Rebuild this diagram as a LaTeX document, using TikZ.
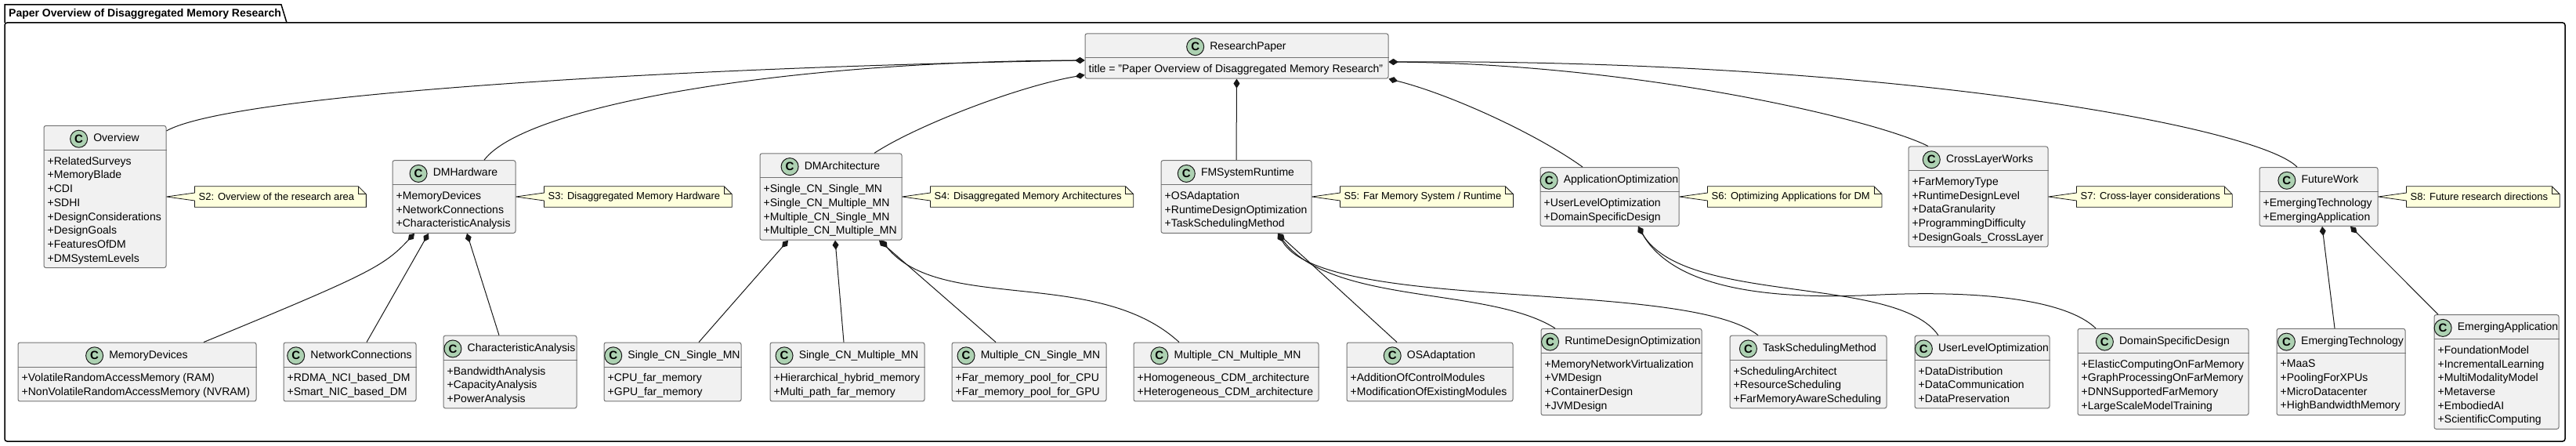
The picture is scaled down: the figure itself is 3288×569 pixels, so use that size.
\documentclass[tikz,border=0pt]{standalone}
\usepackage{fontspec}
\setmainfont{Liberation Sans}
\usepackage{xcolor}
\usepackage{tikz}
\usetikzlibrary{arrows.meta,positioning,calc,backgrounds}

\definecolor{clsfill}{HTML}{F1F1F1}
\definecolor{clsline}{HTML}{181818}
\definecolor{badgefill}{HTML}{ADD1B2}
\definecolor{notefill}{HTML}{FEFFDD}

% class box: name, centre, width, number of members, title, members
\newcommand{\umlclass}[6]{%
  \node[cls, minimum width=#3, minimum height={39.5+17.7*#4}] (#1) at #2 {};
  \draw[divider] ($(#1.north west)+(0,31.5)$) -- ($(#1.north east)+(0,31.5)$);
  \node[clsname] (#1-name) at ($(#1.north)+(14.5,17.25)$) {#5};
  \node[badge, left=7pt of #1-name] (#1-c) {C};
  \node[clsattr] (#1-attr) at ($(#1.north west)+(5,40)$) {#6};
}

% note attached to a class: name, class, text
\newcommand{\umlnote}[3]{%
  \node[notetext, right=36pt of #2] (#1) {#3};
  \begin{scope}[on background layer]
    \filldraw[note] (#1.north west) -- (#1.north east) -- ($(#1.north east)+(10,10)$)
      -- ($(#1.south east)+(10,0)$) -- (#1.south west) -- ($(#1.west)+(0,5)$)
      -- (#2.east) -- ($(#1.west)+(0,-5)$) -- cycle;
  \end{scope}
  \draw[notefold] (#1.north east) -- ($(#1.north east)+(0,10)$) -- ($(#1.north east)+(10,10)$);
}

\begin{document}
\begin{tikzpicture}[
    x=1pt, y=-1pt,
    cls/.style={draw=black!55, line width=1pt, fill=clsfill, rounded corners=2.5pt, inner sep=0pt},
    divider/.style={draw=black!55, line width=1pt},
    clsname/.style={inner sep=0pt, font=\fontsize{14}{17}\selectfont, text height=10pt, text depth=3pt},
    badge/.style={circle, draw=clsline, line width=1pt, fill=badgefill, minimum size=22pt, inner sep=0pt, font=\fontsize{15}{15}\selectfont\bfseries},
    clsattr/.style={anchor=north west, inner sep=0pt, align=left, font=\fontsize{14}{17.7}\selectfont},
    notetext/.style={anchor=west, inner xsep=5pt, inner ysep=0pt, minimum height=26pt, font=\fontsize{13}{16}\selectfont},
    note/.style={draw=clsline, line width=0.8pt, fill=notefill},
    notefold/.style={draw=clsline, line width=0.8pt},
    comp/.style={{Diamond[length=12pt, width=8pt]}-, draw=clsline, line width=1pt},
    frame/.style={draw=black, line width=1.5pt},
    pkgtitle/.style={anchor=west, inner sep=0pt, font=\fontsize{14}{17}\selectfont\bfseries},
  ]
  \useasboundingbox (0,0) rectangle (3288,569);

  % Package frame
  \draw[frame, rounded corners=3pt] (6,29) rectangle (3274,563);
  \draw[frame] (6,29) -- (6,6) -- (359,6) -- (366,29);
  \node[pkgtitle] (pkg) at (11,18) {Paper Overview of Disaggregated Memory Research};

  % Root class
  \umlclass{researchpaper}{(1578.5,71.5)}{387}{1}{ResearchPaper}{title = "Paper Overview of Disaggregated Memory Research"}

  % Sections
  \umlclass{overview}{(134,251)}{156}{8}{Overview}{+RelatedSurveys\\+MemoryBlade\\+CDI\\+SDHI\\+DesignConsiderations\\+DesignGoals\\+FeaturesOfDM\\+DMSystemLevels}
  \umlclass{dmhw}{(579.5,251)}{157}{3}{DMHardware}{+MemoryDevices\\+NetworkConnections\\+CharacteristicAnalysis}
  \umlclass{dmarch}{(1060.5,251)}{181}{4}{DMArchitecture}{+Single\_CN\_Single\_MN\\+Single\_CN\_Multiple\_MN\\+Multiple\_CN\_Single\_MN\\+Multiple\_CN\_Multiple\_MN}
  \umlclass{fmsr}{(1578,251)}{192}{3}{FMSystemRuntime}{+OSAdaptation\\+RuntimeDesignOptimization\\+TaskSchedulingMethod}
  \umlclass{appopt}{(2054.5,251)}{177}{2}{ApplicationOptimization}{+UserLevelOptimization\\+DomainSpecificDesign}
  \umlclass{crosslayer}{(2525,251)}{178}{5}{CrossLayerWorks}{+FarMemoryType\\+RuntimeDesignLevel\\+DataGranularity\\+ProgrammingDifficulty\\+DesignGoals\_CrossLayer}
  \umlclass{futurework}{(2959.5,251)}{151}{2}{FutureWork}{+EmergingTechnology\\+EmergingApplication}

  % Notes
  \umlnote{s2}{overview}{S2: Overview of the research area}
  \umlnote{s3}{dmhw}{S3: Disaggregated Memory Hardware}
  \umlnote{s4}{dmarch}{S4: Disaggregated Memory Architectures}
  \umlnote{s5}{fmsr}{S5: Far Memory System / Runtime}
  \umlnote{s6}{appopt}{S6: Optimizing Applications for DM}
  \umlnote{s7}{crosslayer}{S7: Cross-layer considerations}
  \umlnote{s8}{futurework}{S8: Future research directions}

  % Leaf classes
  \umlclass{memdev}{(175,474.5)}{304}{2}{MemoryDevices}{+VolatileRandomAccessMemory (RAM)\\+NonVolatileRandomAccessMemory (NVRAM)}
  \umlclass{netconn}{(446.5,474.5)}{169}{2}{NetworkConnections}{+RDMA\_NCI\_based\_DM\\+Smart\_NIC\_based\_DM}
  \umlclass{charana}{(651,474.5)}{170}{3}{CharacteristicAnalysis}{+BandwidthAnalysis\\+CapacityAnalysis\\+PowerAnalysis}
  \umlclass{scsm}{(858.5,474.5)}{175}{2}{Single\_CN\_Single\_MN}{+CPU\_far\_memory\\+GPU\_far\_memory}
  \umlclass{scmm}{(1081.5,474.5)}{197}{2}{Single\_CN\_Multiple\_MN}{+Hierarchical\_hybrid\_memory\\+Multi\_path\_far\_memory}
  \umlclass{mcsm}{(1313.5,474.5)}{197}{2}{Multiple\_CN\_Single\_MN}{+Far\_memory\_pool\_for\_CPU\\+Far\_memory\_pool\_for\_GPU}
  \umlclass{mcmm}{(1565,474.5)}{236}{2}{Multiple\_CN\_Multiple\_MN}{+Homogeneous\_CDM\_architecture\\+Heterogeneous\_CDM\_architecture}
  \umlclass{osadapt}{(1825,474.5)}{212}{2}{OSAdaptation}{+AdditionOfControlModules\\+ModificationOfExistingModules}
  \umlclass{rtdesign}{(2069.5,474.5)}{205}{4}{RuntimeDesignOptimization}{+MemoryNetworkVirtualization\\+VMDesign\\+ContainerDesign\\+JVMDesign}
  \umlclass{tasksched}{(2308,474.5)}{200}{3}{TaskSchedulingMethod}{+SchedulingArchitect\\+ResourceScheduling\\+FarMemoryAwareScheduling}
  \umlclass{userlevel}{(2530,474.5)}{172}{3}{UserLevelOptimization}{+DataDistribution\\+DataCommunication\\+DataPreservation}
  \umlclass{domainspec}{(2761,474.5)}{218}{4}{DomainSpecificDesign}{+ElasticComputingOnFarMemory\\+GraphProcessingOnFarMemory\\+DNNSupportedFarMemory\\+LargeScaleModelTraining}
  \umlclass{emergtech}{(2988,474.5)}{164}{4}{EmergingTechnology}{+MaaS\\+PoolingForXPUs\\+MicroDatacenter\\+HighBandwidthMemory}
  \umlclass{emergapp}{(3186.5,474.5)}{159}{6}{EmergingApplication}{+FoundationModel\\+IncrementalLearning\\+MultiModalityModel\\+Metaverse\\+EmbodiedAI\\+ScientificComputing}

  % Root compositions
  \draw[comp] ($(researchpaper.west)+(0,5.5)$) .. controls (900,85) and (300,118) .. ($(overview.north east)+(0,7)$);
  \draw[comp] ($(researchpaper.west)+(0,5.5)$) .. controls (1000,78) and (670,135) .. ($(dmhw.north)+(38.5,0)$);
  \draw[comp] ($(researchpaper.south west)+(0,-5)$) .. controls (1300,110) and (1170,160) .. ($(dmarch.north)+(55.5,0)$);
  \draw[comp] (researchpaper.south) -- (fmsr.north);
  \draw[comp] (researchpaper.south east) .. controls (1850,120) and (1960,170) .. ($(appopt.north)+(-34.5,0)$);
  \draw[comp] ($(researchpaper.east)+(0,7.5)$) .. controls (2100,82) and (2400,155) .. ($(crosslayer.north)+(-64,0)$);
  \draw[comp] ($(researchpaper.east)+(0,7.5)$) .. controls (2400,75) and (2880,160) .. ($(futurework.north)+(-27.5,0)$);

  % Hardware
  \draw[comp] ($(dmhw.south)+(-50.5,0)$) .. controls (490,340) and (470,350) .. ($(memdev.north)+(85,0)$);
  \draw[comp] ($(dmhw.south)+(-32.5,0)$) -- ($(netconn.north)+(21.5,0)$);
  \draw[comp] ($(dmhw.south)+(16.5,0)$) -- ($(charana.north)+(-14,0)$);

  % Architectures
  \draw[comp] ($(dmarch.south)+(-54.5,0)$) -- ($(scsm.north)+(33.5,0)$);
  \draw[comp] ($(dmarch.south)+(5.5,0)$) -- ($(scmm.north)+(-4.5,0)$);
  \draw[comp] ($(dmarch.south)+(61.5,0)$) -- ($(mcsm.north)+(-42.5,0)$);
  \draw[comp] ($(dmarch.south)+(64.5,0)$) .. controls (1200,400) and (1400,340) .. ($(mcmm.north)+(-60,0)$);

  % System / runtime
  \draw[comp] ($(fmsr.south)+(53,0)$) -- ($(osadapt.north)+(-42,0)$);
  \draw[comp] ($(fmsr.south)+(53,0)$) .. controls (1700,390) and (1900,365) .. ($(rtdesign.north)+(-84.5,0)$);
  \draw[comp] ($(fmsr.south)+(53,0)$) .. controls (1690,400) and (2150,355) .. ($(tasksched.north)+(-64,0)$);

  % Applications
  \draw[comp] ($(appopt.south)+(36.5,0)$) .. controls (2150,390) and (2420,350) .. ($(userlevel.north)+(-56,0)$);
  \draw[comp] ($(appopt.south)+(36.5,0)$) .. controls (2140,375) and (2280,382) .. (2400,376)
    .. controls (2540,370) and (2640,385) .. ($(domainspec.north)+(-86,0)$);

  % Future work
  \draw[comp] ($(futurework.south)+(4.5,0)$) -- ($(emergtech.north)+(-8,0)$);
  \draw[comp] ($(futurework.south)+(40.5,0)$) -- ($(emergapp.north)+(-74.5,0)$);

\end{tikzpicture}
\end{document}
